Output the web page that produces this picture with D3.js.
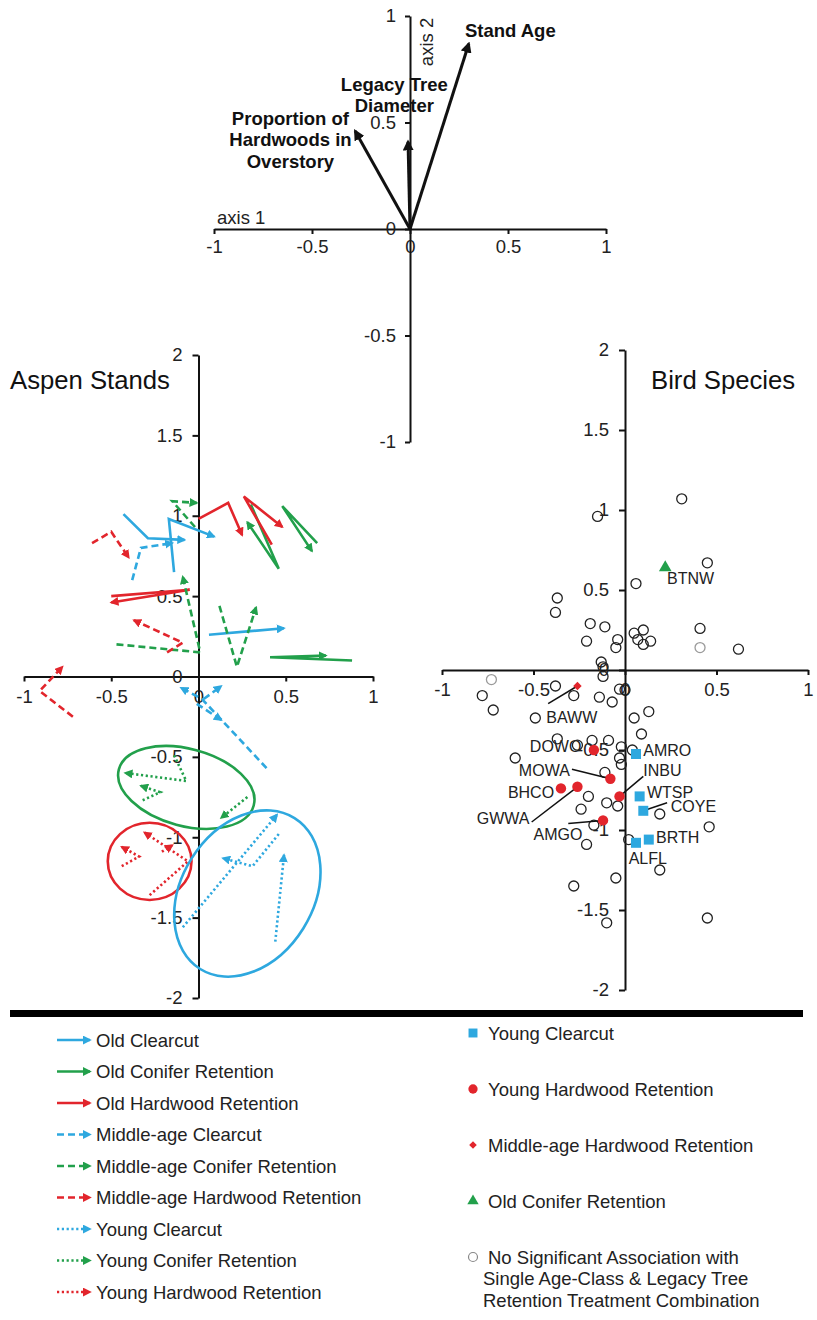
<!DOCTYPE html>
<html>
<head>
<meta charset="utf-8">
<script src="https://cdn.jsdelivr.net/npm/d3@7/dist/d3.min.js"></script>
<style>
body { margin: 0; background: #fff; }
text { font-family: Arial, "Liberation Sans", sans-serif; }
</style>
</head>
<body>
<svg id="chart" width="817" height="1320"></svg>
<script>

//---- data: environmental vectors (top biplot)
var vectorLabels = [["Stand Age"], ["Legacy Tree", "Diameter"], ["Proportion of", "Hardwoods in", "Overstory"]]
var vectorX = [0.30, -0.01, -0.28]
var vectorY = [0.87, 0.41, 0.46]
var vectorLabelX = [0.28, -0.08, -0.61]
var vectorLabelY = [0.90, 0.65, 0.49]
var vectorLabelAnchor = ["start", "middle", "middle"]

//---- data: aspen stand trajectories, one polyline per stand (axis 1, axis 2)
var oldClearcut = [
    [[-0.43, 1.01], [-0.29, 0.86], [-0.08, 0.85]],
    [[-0.14, 0.65], [-0.17, 0.98], [0.09, 0.87]],
    [[0.06, 0.26], [0.49, 0.30]]
]
var oldConifer = [
    [[0.68, 0.83], [0.48, 1.06], [0.65, 0.78]],
    [[0.30, 1.07], [0.46, 0.67], [0.28, 0.96]],
    [[0.88, 0.10], [0.41, 0.12], [0.73, 0.13]]
]
var oldHardwood = [
    [[0.00, 0.98], [0.17, 1.08], [0.25, 0.88]],
    [[0.42, 0.82], [0.26, 1.12], [0.48, 0.93]],
    [[-0.50, 0.50], [-0.05, 0.54], [-0.50, 0.46]]
]
var midClearcut = [
    [[-0.38, 0.60], [-0.33, 0.80], [-0.15, 0.83]],
    [[0.39, -0.57], [0.02, -0.14], [-0.10, -0.07]],
    [[-0.01, -0.17], [0.13, -0.27]],
    [[0.03, -0.14], [0.13, -0.06]]
]
var midConifer = [
    [[-0.02, 0.93], [-0.15, 1.09], [-0.01, 1.08]],
    [[-0.47, 0.20], [0.01, 0.15], [-0.09, 0.62]],
    [[0.12, 0.44], [0.22, 0.06], [0.33, 0.43]]
]
var midHardwood = [
    [[-0.61, 0.83], [-0.50, 0.90], [-0.40, 0.74]],
    [[-0.18, 0.15], [-0.09, 0.21], [-0.37, 0.35]],
    [[-0.72, -0.25], [-0.91, -0.09], [-0.78, 0.06]]
]
var youngClearcut = [
    [[-0.09, -1.56], [0.45, -0.86]],
    [[0.46, -0.98], [0.31, -1.18], [0.14, -1.13]],
    [[0.44, -1.65], [0.49, -1.11]]
]
var youngConifer = [
    [[-0.14, -0.49], [-0.07, -0.65], [-0.42, -0.60]],
    [[-0.32, -0.77], [-0.22, -0.72], [-0.33, -0.68]],
    [[0.28, -0.75], [0.13, -0.88]]
]
var youngHardwood = [
    [[-0.44, -1.18], [-0.34, -1.12], [-0.44, -1.06]],
    [[-0.28, -1.36], [-0.06, -1.15], [-0.31, -0.97]],
    [[-0.21, -1.09], [-0.15, -1.05]]
]

// group ellipses: centre x, centre y, radius x, radius y, rotation
var ellipseNames = ["Young Conifer", "Young Hardwood", "Young Clearcut"]
var ellipseCx = [-0.07, -0.28, 0.28]
var ellipseCy = [-0.69, -1.15, -1.35]
var ellipseRx = [0.40, 0.24, 0.51]
var ellipseRy = [0.24, 0.24, 0.41]
var ellipseRot = [15, 0, -58]

//---- data: bird species scores
var noAssociation = [
    [0.31, 1.07], [-0.15, 0.96], [0.45, 0.67], [0.06, 0.54], [-0.37, 0.45], [-0.38, 0.36],
    [-0.19, 0.29], [-0.11, 0.27], [0.41, 0.26], [-0.21, 0.18], [-0.04, 0.19], [-0.05, 0.14],
    [0.05, 0.23], [0.10, 0.25], [0.07, 0.19], [0.10, 0.16], [0.14, 0.18], [0.62, 0.13],
    [-0.13, 0.05], [-0.12, 0.02], [-0.12, -0.04], [-0.38, -0.10], [-0.28, -0.16], [-0.78, -0.16],
    [-0.72, -0.25], [-0.49, -0.30], [-0.14, -0.17], [-0.07, -0.20], [-0.03, -0.12], [0.00, -0.125],
    [0.13, -0.26], [0.05, -0.30], [0.09, -0.40], [-0.37, -0.43], [-0.26, -0.47], [-0.18, -0.44],
    [-0.09, -0.44], [-0.02, -0.48], [0.04, -0.50], [-0.60, -0.55], [-0.03, -0.55], [-0.02, -0.59],
    [-0.11, -0.64], [-0.20, -0.79], [-0.10, -0.83], [-0.04, -0.85], [-0.24, -0.87], [0.19, -0.90],
    [-0.17, -0.97], [0.46, -0.98], [0.02, -1.06], [-0.21, -1.09], [0.19, -1.25], [-0.05, -1.30],
    [-0.28, -1.35], [0.45, -1.55], [-0.10, -1.58]
]
var noAssociationGrey = [[0.41, 0.14], [-0.73, -0.06]]

var speciesCodes = ["AMRO", "WTSP", "COYE", "BRTH", "ALFL", "DOWO", "MOWA", "BHCO", "GWWA", "INBU", "AMGO", "BAWW", "BTNW"]
var speciesGroup = ["yc", "yc", "yc", "yc", "yc", "yh", "yh", "yh", "yh", "yh", "yh", "mh", "oc"]
var speciesX = [0.06, 0.08, 0.10, 0.13, 0.06, -0.17, -0.08, -0.35, -0.26, -0.03, -0.12, -0.26, 0.22]
var speciesY = [-0.525, -0.79, -0.88, -1.06, -1.08, -0.50, -0.68, -0.74, -0.73, -0.79, -0.94, -0.10, 0.64]
// label text position and optional leader start
var labelX = [0.10, 0.12, 0.25, 0.17, 0.02, -0.52, -0.58, -0.64, -0.81, 0.10, -0.50, -0.43, 0.23]
var labelY = [-0.54, -0.80, -0.89, -1.08, -1.21, -0.51, -0.66, -0.80, -0.96, -0.665, -1.06, -0.33, 0.54]
var leaderX = [null, null, 0.23, null, null, null, -0.29, null, -0.51, 0.10, -0.31, -0.42, null]
var leaderY = [null, null, -0.83, null, null, null, -0.62, null, -0.95, -0.665, -0.96, -0.21, null]

var axisTicks = [-1, -0.5, 0, 0.5, 1]
var yTicksBig = [-2, -1.5, -1, -0.5, 0, 0.5, 1, 1.5, 2]

//---- style
var blue = "#2ea8df"
var green = "#22a04b"
var red = "#e2252c"
var grey = "#9a9a9a"
var fontSize = 18.5
var dashSolid = null, dashMid = "7,4", dashYoung = "2.2,2.6"

var series = [
    {name: "Old Clearcut", color: blue, dash: dashSolid, paths: oldClearcut},
    {name: "Old Conifer Retention", color: green, dash: dashSolid, paths: oldConifer},
    {name: "Old Hardwood Retention", color: red, dash: dashSolid, paths: oldHardwood},
    {name: "Middle-age Clearcut", color: blue, dash: dashMid, paths: midClearcut},
    {name: "Middle-age Conifer Retention", color: green, dash: dashMid, paths: midConifer},
    {name: "Middle-age Hardwood Retention", color: red, dash: dashMid, paths: midHardwood},
    {name: "Young Clearcut", color: blue, dash: dashYoung, paths: youngClearcut},
    {name: "Young Conifer Retention", color: green, dash: dashYoung, paths: youngConifer},
    {name: "Young Hardwood Retention", color: red, dash: dashYoung, paths: youngHardwood}
]
var ellipseColors = [green, red, blue]

var svg = d3.select("#chart")
var defs = svg.append("defs")

function addMarker(id, color, size) {
    defs.append("marker")
        .attr("id", id)
        .attr("viewBox", "0 0 10 10")
        .attr("refX", 8).attr("refY", 5)
        .attr("markerWidth", size).attr("markerHeight", size)
        .attr("markerUnits", "userSpaceOnUse")
        .attr("orient", "auto")
        .append("path").attr("d", "M0,0L10,5L0,10z").attr("fill", color)
}
addMarker("head-black", "#111", 11)
addMarker("head-blue", blue, 9)
addMarker("head-green", green, 9)
addMarker("head-red", red, 9)
function headFor(color) {
    return color == blue ? "url(#head-blue)" : color == green ? "url(#head-green)" : "url(#head-red)"
}

var fmt = d => String(d)

function styleAxis(g) {
    g.attr("font-family", null).attr("font-size", null)
    g.select(".domain").attr("stroke", "#111").attr("stroke-width", 2)
    g.selectAll(".tick line").attr("stroke", "#111").attr("stroke-width", 2)
    g.selectAll(".tick text").attr("font-size", fontSize).attr("fill", "#222")
}

//---- top biplot
var bx = d3.scaleLinear().domain([-1, 1]).range([214, 606])
var by = d3.scaleLinear().domain([-1, 1]).range([442, 16])

svg.append("g")
   .attr("transform", `translate(0,${by(0)})`)
   .call(d3.axisBottom(bx).tickValues(axisTicks).tickFormat(fmt).tickSize(5).tickPadding(6).tickSizeOuter(0))
   .call(styleAxis)
svg.append("g")
   .attr("transform", `translate(${bx(0)},0)`)
   .call(d3.axisLeft(by).tickValues(axisTicks).tickFormat(fmt).tickSize(5).tickPadding(9).tickSizeOuter(0))
   .call(styleAxis)

svg.append("text").attr("x", 217).attr("y", 224).attr("font-size", fontSize).attr("fill", "#222").text("axis 1")
svg.append("text")
   .attr("transform", `translate(433,42) rotate(-90)`)
   .attr("text-anchor", "middle")
   .attr("font-size", fontSize).attr("fill", "#222")
   .text("axis 2")

svg.append("g").selectAll("line")
   .data(vectorX)
   .enter().append("line")
   .attr("x1", bx(0)).attr("y1", by(0))
   .attr("x2", d => bx(d))
   .attr("y2", (d, i) => by(vectorY[i]))
   .attr("stroke", "#111").attr("stroke-width", 3)
   .attr("marker-end", "url(#head-black)")

vectorLabels.forEach((lines, i) => {
    var t = svg.append("text")
        .attr("x", bx(vectorLabelX[i]))
        .attr("y", by(vectorLabelY[i]))
        .attr("text-anchor", vectorLabelAnchor[i])
        .attr("font-size", fontSize).attr("font-weight", "bold").attr("fill", "#111")
    lines.forEach((l, j) => {
        t.append("tspan").attr("x", bx(vectorLabelX[i])).attr("dy", j == 0 ? 0 : 21.5).text(l)
    })
})

//---- aspen stands panel
var ax = d3.scaleLinear().domain([-1, 1]).range([24, 373])
var ay = d3.scaleLinear().domain([-2, 2]).range([998, 355])

svg.append("g")
   .attr("transform", `translate(0,${ay(0)})`)
   .call(d3.axisBottom(ax).tickValues(axisTicks).tickFormat(fmt).tickSize(5).tickPadding(8).tickSizeOuter(0))
   .call(styleAxis)
svg.append("g")
   .attr("transform", `translate(${ax(0)},0)`)
   .call(d3.axisLeft(ay).tickValues(yTicksBig).tickFormat(fmt).tickSize(6).tickPadding(10).tickSizeOuter(0))
   .call(styleAxis)

svg.append("text").attr("x", 10).attr("y", 389).attr("font-size", 25.7).attr("fill", "#111").text("Aspen Stands")

var line = d3.line().x(d => ax(d[0])).y(d => ay(d[1]))

series.forEach(s => {
    svg.append("g").selectAll("path")
       .data(s.paths)
       .enter().append("path")
       .attr("d", line)
       .attr("fill", "none")
       .attr("stroke", s.color)
       .attr("stroke-width", 2.6)
       .attr("stroke-dasharray", s.dash)
       .attr("marker-end", headFor(s.color))
})

svg.append("g").selectAll("ellipse")
   .data(ellipseNames)
   .enter().append("ellipse")
   .attr("cx", (d, i) => ax(ellipseCx[i]))
   .attr("cy", (d, i) => ay(ellipseCy[i]))
   .attr("rx", (d, i) => ax(ellipseRx[i]) - ax(0))
   .attr("ry", (d, i) => ay(0) - ay(ellipseRy[i]))
   .attr("transform", (d, i) => `rotate(${ellipseRot[i]},${ax(ellipseCx[i])},${ay(ellipseCy[i])})`)
   .attr("fill", "none")
   .attr("stroke", (d, i) => ellipseColors[i])
   .attr("stroke-width", 2.6)

//---- bird species panel
var sx = d3.scaleLinear().domain([-1, 1]).range([442, 808])
var sy = d3.scaleLinear().domain([-2, 2]).range([990, 350])

svg.append("g")
   .attr("transform", `translate(0,${sy(0)})`)
   .call(d3.axisBottom(sx).tickValues(axisTicks).tickFormat(fmt).tickSize(5).tickPadding(8).tickSizeOuter(0))
   .call(styleAxis)
svg.append("g")
   .attr("transform", `translate(${sx(0)},0)`)
   .call(d3.axisLeft(sy).tickValues(yTicksBig).tickFormat(fmt).tickSize(6).tickPadding(10).tickSizeOuter(0))
   .call(styleAxis)

svg.append("text").attr("x", 651).attr("y", 389).attr("font-size", 25.7).attr("fill", "#111").text("Bird Species")

svg.append("g").selectAll("circle")
   .data(noAssociation)
   .enter().append("circle")
   .attr("cx", d => sx(d[0])).attr("cy", d => sy(d[1]))
   .attr("r", 5).attr("fill", "none").attr("stroke", "#222").attr("stroke-width", 1.3)
svg.append("g").selectAll("circle")
   .data(noAssociationGrey)
   .enter().append("circle")
   .attr("cx", d => sx(d[0])).attr("cy", d => sy(d[1]))
   .attr("r", 5).attr("fill", "none").attr("stroke", grey).attr("stroke-width", 1.3)

// leader lines
svg.append("g").selectAll("line")
   .data(speciesCodes.filter((d, i) => leaderX[i] != null).map(d => speciesCodes.indexOf(d)))
   .enter().append("line")
   .attr("x1", i => sx(leaderX[i])).attr("y1", i => sy(leaderY[i]))
   .attr("x2", i => sx(speciesX[i])).attr("y2", i => sy(speciesY[i]))
   .attr("stroke", "#111").attr("stroke-width", 1.5)

var groupColor = {yc: blue, yh: red, mh: red, oc: green}
var groupSymbol = {yc: d3.symbolSquare, yh: d3.symbolCircle, mh: d3.symbolSquare, oc: d3.symbolTriangle}
var groupSize = {yc: 100, yh: 85, mh: 36, oc: 70}
var groupRotate = {yc: 0, yh: 0, mh: 45, oc: 0}

svg.append("g").selectAll("path")
   .data(speciesCodes)
   .enter().append("path")
   .attr("transform", (d, i) => `translate(${sx(speciesX[i])},${sy(speciesY[i])}) rotate(${groupRotate[speciesGroup[i]]})`)
   .attr("d", (d, i) => d3.symbol(groupSymbol[speciesGroup[i]], groupSize[speciesGroup[i]])())
   .attr("fill", (d, i) => groupColor[speciesGroup[i]])

svg.append("g").selectAll("text")
   .data(speciesCodes)
   .enter().append("text")
   .attr("x", (d, i) => sx(labelX[i]))
   .attr("y", (d, i) => sy(labelY[i]))
   .attr("font-size", 16).attr("fill", "#222")
   .text(d => d)

//---- divider
svg.append("rect").attr("x", 10).attr("y", 1010).attr("width", 793).attr("height", 7).attr("fill", "#000")

//---- legend left
var legRowY = d3.scaleLinear().domain([0, 8]).range([1040, 1292])
var legLeft = svg.append("g")
series.forEach((s, i) => {
    legLeft.append("line")
        .attr("x1", 57).attr("x2", 90)
        .attr("y1", legRowY(i)).attr("y2", legRowY(i))
        .attr("stroke", s.color).attr("stroke-width", 2.6)
        .attr("stroke-dasharray", s.dash)
        .attr("marker-end", headFor(s.color))
    legLeft.append("text")
        .attr("x", 96).attr("y", legRowY(i) + 6.6)
        .attr("font-size", fontSize).attr("fill", "#222")
        .text(s.name)
})

//---- legend right
var rightNames = ["Young Clearcut", "Young Hardwood Retention", "Middle-age Hardwood Retention", "Old Conifer Retention"]
var rightGroups = ["yc", "yh", "mh", "oc"]
var rightRowY = d3.scaleLinear().domain([0, 4]).range([1033, 1257])
var legRight = svg.append("g")
rightNames.forEach((n, i) => {
    var g = rightGroups[i]
    legRight.append("path")
        .attr("transform", `translate(473,${rightRowY(i)}) rotate(${groupRotate[g]})`)
        .attr("d", d3.symbol(groupSymbol[g], groupSize[g] * 0.8)())
        .attr("fill", groupColor[g])
    legRight.append("text")
        .attr("x", 488).attr("y", rightRowY(i) + 6.6)
        .attr("font-size", fontSize).attr("fill", "#222")
        .text(n)
})
legRight.append("circle")
    .attr("cx", 473).attr("cy", rightRowY(4)).attr("r", 4.5)
    .attr("fill", "none").attr("stroke", "#888").attr("stroke-width", 1.2)
var noSig = legRight.append("text")
    .attr("font-size", fontSize).attr("fill", "#222")
    .attr("y", rightRowY(4) + 6.6)
noSig.append("tspan").attr("x", 488).text("No Significant Association with")
noSig.append("tspan").attr("x", 483).attr("dy", 21.5).text("Single Age-Class & Legacy Tree")
noSig.append("tspan").attr("x", 483).attr("dy", 21.5).text("Retention Treatment Combination")

</script>
</body>
</html>
